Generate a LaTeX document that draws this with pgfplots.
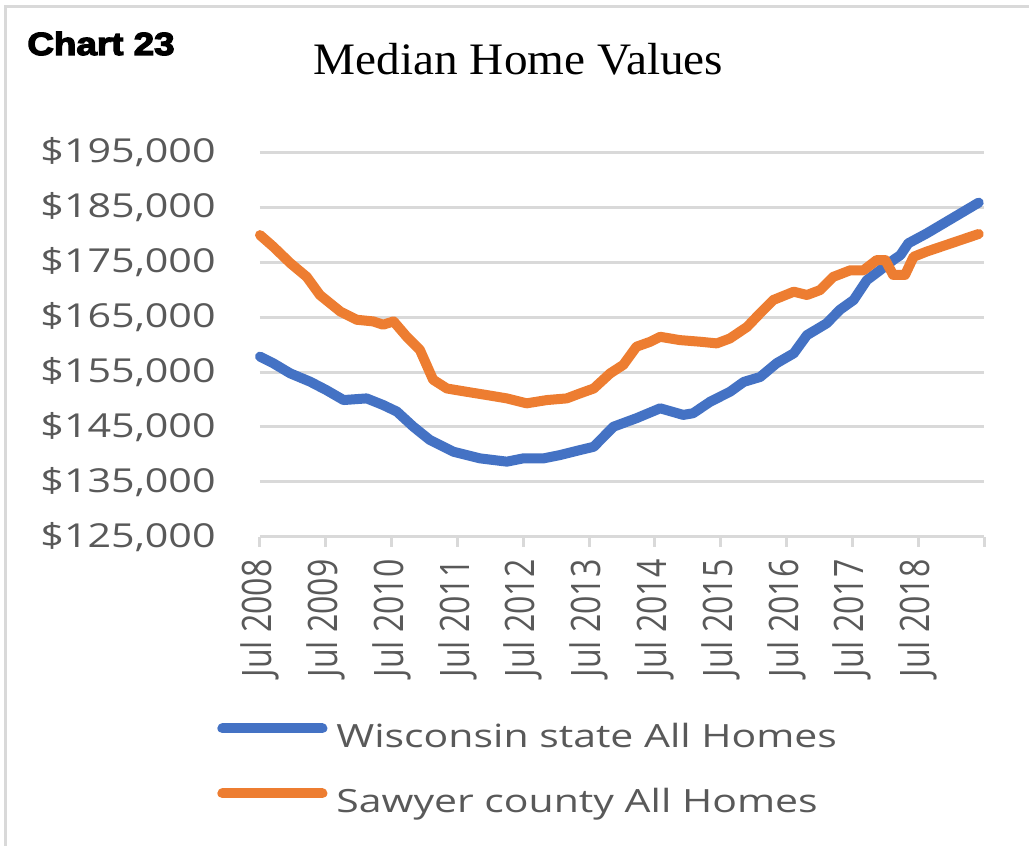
\documentclass[border=0pt]{standalone}
\usepackage{pgfplots}
\pgfplotsset{compat=1.18}
\usepackage{fontspec}
\setmainfont{Open Sans}
\newfontfamily\ylabfont[FakeStretch=1.25]{Open Sans}
\newfontfamily\xlabfont[FakeStretch=0.79]{Open Sans}
\newfontfamily\legfont[FakeStretch=1.28]{Open Sans}
\newfontfamily\titlefont[FakeStretch=1.05]{Liberation Serif}
\newfontfamily\chartfont[FakeStretch=1.15,BoldFeatures={FakeBold=4}]{Liberation Sans}
\definecolor{xblue}{HTML}{4472C4}
\definecolor{xorange}{HTML}{ED7D31}
\definecolor{gridgray}{HTML}{D9D9D9}
\definecolor{txtgray}{HTML}{595959}

\pgfplotstableread{
x y
2008.50 157800
2008.70 156600
2008.96 154750
2009.26 153250
2009.51 151700
2009.77 149900
2010.12 150200
2010.37 149000
2010.58 147800
2010.83 145050
2011.08 142650
2011.44 140500
2011.84 139300
2012.25 138700
2012.50 139300
2012.81 139300
2013.06 139900
2013.36 140800
2013.57 141400
2013.87 145050
2014.22 146600
2014.58 148400
2014.93 147200
2015.08 147500
2015.34 149600
2015.64 151400
2015.85 153200
2016.10 154100
2016.35 156600
2016.61 158400
2016.81 161700
2017.11 163850
2017.31 166300
2017.52 168100
2017.72 171700
2017.92 173500
2018.12 175350
2018.23 176250
2018.35 178400
2018.63 180200
2019.42 185800
}\wisconsin

\pgfplotstableread{
x y
2008.50 179900
2008.70 177800
2008.96 174800
2009.21 172300
2009.41 169000
2009.72 166000
2009.97 164500
2010.22 164200
2010.37 163600
2010.53 164200
2010.73 161400
2010.93 159000
2011.13 153600
2011.34 152000
2011.64 151400
2011.95 150800
2012.25 150200
2012.55 149300
2012.86 149900
2013.16 150200
2013.36 151100
2013.57 152000
2013.82 154750
2014.02 156300
2014.22 159600
2014.43 160500
2014.58 161400
2014.88 160800
2015.19 160500
2015.44 160200
2015.64 161100
2015.90 163200
2016.10 165700
2016.30 168100
2016.61 169600
2016.81 169000
2017.01 169900
2017.21 172300
2017.47 173500
2017.67 173500
2017.87 175350
2018.00 175350
2018.12 172650
2018.30 172650
2018.43 175950
2018.63 176900
2019.42 180100
}\sawyer

\begin{document}
\begin{tikzpicture}
\useasboundingbox (0pt,0pt) rectangle (514.5pt,423pt);
\fill[white] (0pt,0pt) rectangle (514.5pt,423pt);
\draw[gridgray, line width=1.5pt] (2.5pt,0pt) -- (2.5pt,419.5pt) -- (514.5pt,419.5pt);
\node[anchor=base west, inner sep=0pt] at (13.5pt,395.5pt)
  {\chartfont\fontsize{16}{19}\selectfont\bfseries Chart 23};
\node[anchor=base, inner sep=0pt] at (259.25pt,385.5pt)
  {\titlefont\fontsize{22.5}{27}\selectfont Median Home Values};
\begin{axis}[
  at={(130pt,154.5pt)}, anchor=south west,
  scale only axis, width=362pt, height=192.5pt,
  xmin=2008.5, xmax=2019.5,
  ymin=125000, ymax=195000,
  scaled y ticks=false, scaled x ticks=false,
  clip=false,
  axis x line*=bottom, axis y line*=left,
  x axis line style={draw=gridgray, line width=1.5pt},
  y axis line style={draw=none},
  tick align=outside, major tick length=5pt,
  xtick={2008.5,2009.5,2010.5,2011.5,2012.5,2013.5,2014.5,2015.5,2016.5,2017.5,2018.5,2019.5},
  xticklabels={Jul 2008,Jul 2009,Jul 2010,Jul 2011,Jul 2012,Jul 2013,Jul 2014,Jul 2015,Jul 2016,Jul 2017,Jul 2018,},
  xtick style={draw=gridgray, line width=1.5pt},
  ytick={125000,135000,145000,155000,165000,175000,185000,195000},
  yticklabels={\$125{,}000,\$135{,}000,\$145{,}000,\$155{,}000,\$165{,}000,\$175{,}000,\$185{,}000,\$195{,}000},
  ytick style={draw=none},
  ymajorgrids,
  grid style={draw=gridgray, line width=1.5pt},
  yticklabel style={font=\ylabfont\fontsize{16.5}{20}\selectfont, text=txtgray, inner sep=0pt, anchor=east, xshift=-17pt},
  xticklabel style={font=\xlabfont\fontsize{20.3}{24}\selectfont, text=txtgray, inner sep=0pt, yshift=-6pt, rotate=90, anchor=east},
  legend style={at={(-0.0594,-0.4831)}, anchor=north west, draw=none, fill=none,
    inner sep=0pt, row sep=16.5pt, column sep=4.5pt,
    nodes={inner sep=0pt, text height=12pt, text depth=4pt, text=txtgray, font=\legfont\fontsize{16}{19}\selectfont}},
  legend cell align=left,
  legend image code/.code={\draw[#1, line cap=round] (0pt,5.5pt) -- (50pt,5.5pt);},
]
\addplot[xblue, line width=5pt, line join=round, line cap=round] table[x=x,y=y] {\wisconsin};
\addlegendentry{Wisconsin state All Homes}
\addplot[xorange, line width=5pt, line join=round, line cap=round] table[x=x,y=y] {\sawyer};
\addlegendentry{Sawyer county All Homes}
\end{axis}
\end{tikzpicture}
\end{document}
